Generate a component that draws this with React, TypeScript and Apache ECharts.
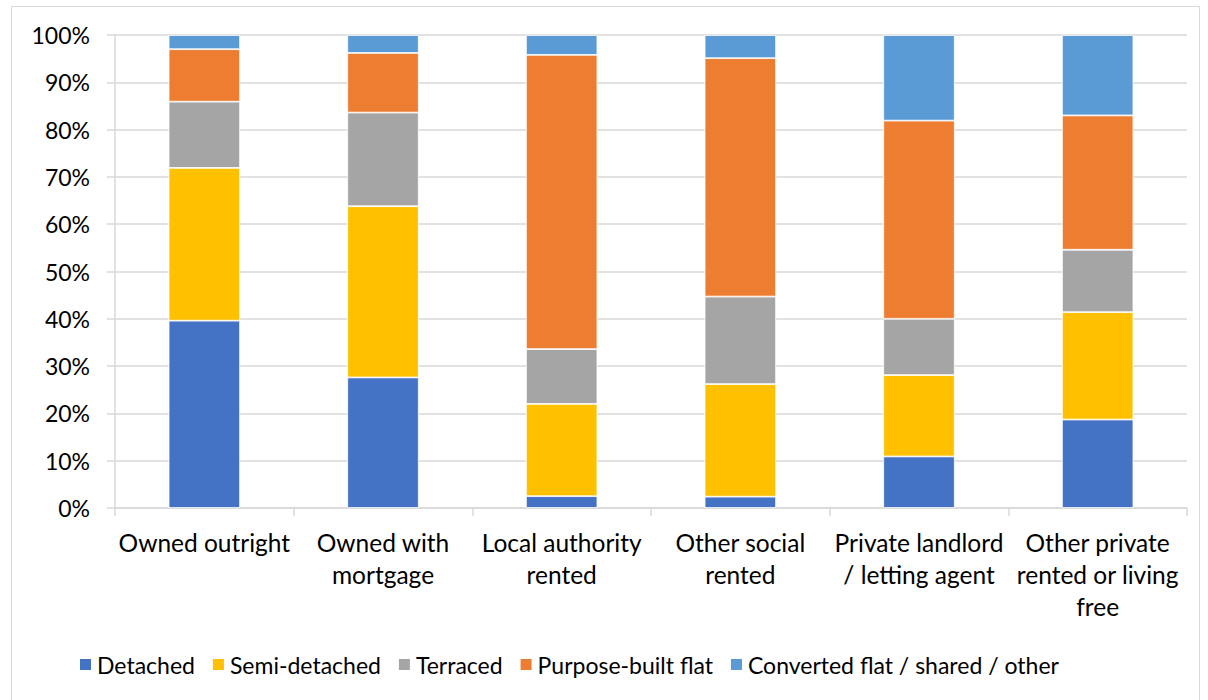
import React, { useEffect, useRef } from "react";
import * as echarts from "echarts";

const categories = [
  "Owned outright",
  "Owned with\nmortgage",
  "Local authority\nrented",
  "Other social\nrented",
  "Private landlord\n/ letting agent",
  "Other private\nrented or living\nfree",
];
const detached = [39.6, 27.6, 2.5, 2.4, 10.9, 18.7];
const semiDetached = [32.3, 36.2, 19.5, 23.8, 17.2, 22.7];
const terraced = [14.0, 19.8, 11.6, 18.5, 11.9, 13.2];
const purposeBuiltFlat = [11.1, 12.6, 62.2, 50.4, 41.9, 28.4];
const convertedFlat = [3.0, 3.8, 4.2, 4.9, 18.1, 17.0];
const seriesNames = ["Detached", "Semi-detached", "Terraced", "Purpose-built flat", "Converted flat / shared / other"];
const seriesColors = ["#4472C4", "#FFC000", "#A5A5A5", "#ED7D31", "#5B9BD5"];
const yTicks = [0, 10, 20, 30, 40, 50, 60, 70, 80, 90, 100];

const FONT = "Lato";

export default function App() {
  const ref = useRef<HTMLDivElement>(null);
  useEffect(() => {
    if (!ref.current) return;
    const chart = echarts.init(ref.current, undefined, { renderer: "svg" });
    const data = [detached, semiDetached, terraced, purposeBuiltFlat, convertedFlat];
    chart.setOption({
      animation: false,
      backgroundColor: "#ffffff",
      textStyle: { fontFamily: FONT },
      graphic: [
        {
          type: "rect",
          shape: { x: 11.5, y: 6.5, width: 1188, height: 720 },
          style: { fill: "none", stroke: "#d9d9d9", lineWidth: 1 },
          silent: true,
          z: -1,
        },
      ],
      grid: { left: 115, right: 21, top: 35, bottom: 192, containLabel: false },
      legend: {
        bottom: 24,
        left: 78,
        padding: 0,
        itemWidth: 13,
        itemHeight: 13,
        itemGap: 16,
        icon: "rect",
        textStyle: { fontFamily: FONT, fontSize: 23, color: "#000" },
        data: seriesNames,
      },
      xAxis: {
        type: "category",
        data: categories,
        axisLine: { show: true, lineStyle: { color: "#d9d9d9", width: 1.5 } },
        axisTick: { show: true, length: 8, lineStyle: { color: "#d9d9d9", width: 1.5 } },
        axisLabel: {
          fontFamily: FONT,
          fontSize: 24.5,
          color: "#000",
          lineHeight: 32,
          margin: 18,
          interval: 0,
        },
      },
      yAxis: {
        type: "value",
        min: 0,
        max: 100,
        interval: 10,
        axisLine: { show: true, lineStyle: { color: "#d9d9d9", width: 1.5 } },
        axisTick: { show: true, length: 8, lineStyle: { color: "#d9d9d9", width: 1.5 } },
        splitLine: { show: true, lineStyle: { color: "#d9d9d9", width: 1.5 } },
        axisLabel: {
          fontFamily: FONT,
          fontSize: 23,
          color: "#000",
          margin: 25,
          formatter: (v: number) => (yTicks.includes(v) ? v + "%" : ""),
        },
      },
      series: seriesNames.map((name, i) => ({
        name,
        type: "bar",
        stack: "total",
        barWidth: "40%",
        data: data[i],
        itemStyle: { color: seriesColors[i], borderColor: "#ffffff", borderWidth: 0.8 },
      })),
    });
    return () => chart.dispose();
  }, []);
  return (
    <div
      ref={ref}
      style={{ position: "absolute", left: 0, top: 0, width: 1208, height: 700 }}
    />
  );
}
